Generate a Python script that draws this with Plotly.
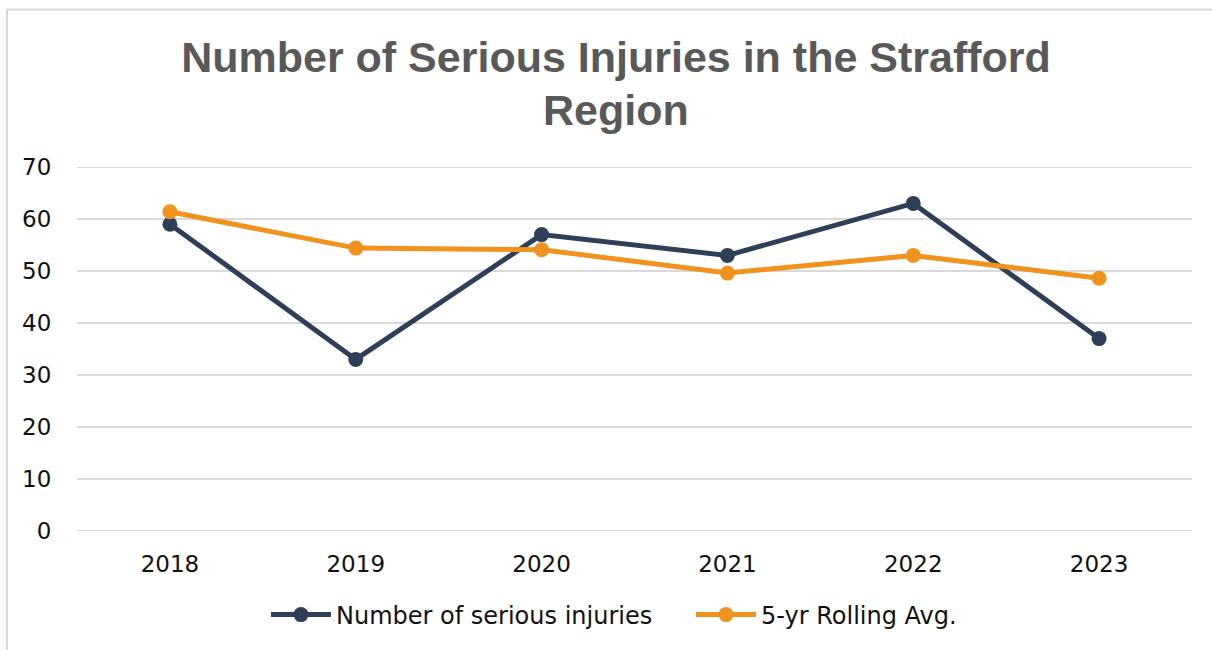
import plotly.graph_objects as go

years = ["2018", "2019", "2020", "2021", "2022", "2023"]
serious_injuries = [59, 33, 57, 53, 63, 37]
rolling_avg = [61.4, 54.4, 54.1, 49.6, 53.0, 48.6]

title_lines = ["Number of Serious Injuries in the Strafford", "Region"]

navy = "#303F58"
orange = "#F0921E"
grid = "#D9D9D9"
title_color = "#595959"

W, H = 1212, 650
L, R, T, B = 77, 20, 167, 119
pw = W - L - R
ph = H - T - B

def px_x(x):
    return (x - L) / pw

def px_y(y):
    return (H - B - y) / ph

fig = go.Figure()
fig.add_trace(go.Scatter(
    x=years, y=serious_injuries, name="Number of serious injuries",
    mode="lines+markers", line=dict(color=navy, width=5),
    marker=dict(color=navy, size=15)))
fig.add_trace(go.Scatter(
    x=years, y=rolling_avg, name="5-yr Rolling Avg.",
    mode="lines+markers", line=dict(color=orange, width=5),
    marker=dict(color=orange, size=15)))

title_font = dict(family="Liberation Sans", size=43, color=title_color, weight="bold")

fig.update_layout(
    width=W, height=H,
    margin=dict(l=L, r=R, t=T, b=B),
    paper_bgcolor="white", plot_bgcolor="white",
    font=dict(family="DejaVu Sans", size=23, color="#111111"),
    title=dict(
        text=title_lines[0], font=title_font,
        x=616 / W, xanchor="center", xref="container",
        y=1 - 57 / H, yanchor="middle", yref="container"),
    annotations=[dict(
        text=title_lines[1], font=title_font, showarrow=False,
        xref="paper", yref="paper", x=px_x(616), xanchor="center",
        y=px_y(110), yanchor="middle")],
    xaxis=dict(type="category", range=[-0.5, 5.5], showgrid=False, zeroline=False,
               showline=False, ticks="outside", ticklen=12, tickcolor="rgba(0,0,0,0)",
               tickfont=dict(size=23, color="#111111")),
    yaxis=dict(range=[0, 70], dtick=10, showgrid=True, gridcolor=grid, gridwidth=2,
               zeroline=False, showline=False, ticks="outside", ticklen=20,
               tickcolor="rgba(0,0,0,0)", tickfont=dict(size=23, color="#111111")),
    legend=dict(orientation="h", x=266 / W, xanchor="left", xref="container",
                y=1 - 615 / H, yanchor="middle", yref="container",
                font=dict(size=24, color="#111111"), itemwidth=60,
                entrywidth=350, entrywidthmode="pixels", tracegroupgap=0),
    showlegend=True,
    shapes=[
        dict(type="line", xref="paper", yref="y", x0=0, x1=1, y0=0, y1=0,
             layer="below", line=dict(color=grid, width=2)),
        dict(type="line", xref="paper", yref="y", x0=0, x1=1, y0=70, y1=70,
             layer="below", line=dict(color=grid, width=2)),
        dict(type="line", xref="paper", yref="paper",
             x0=px_x(7), x1=px_x(1212), y0=px_y(9.5), y1=px_y(9.5),
             line=dict(color=grid, width=2)),
        dict(type="line", xref="paper", yref="paper",
             x0=px_x(7), x1=px_x(7), y0=px_y(9.5), y1=px_y(650),
             line=dict(color=grid, width=2)),
    ],
)

fig.write_html("out.html", config={"displayModeBar": False},
               post_script="document.body.style.margin='0';document.body.style.padding='0';document.body.style.overflow='hidden';")
